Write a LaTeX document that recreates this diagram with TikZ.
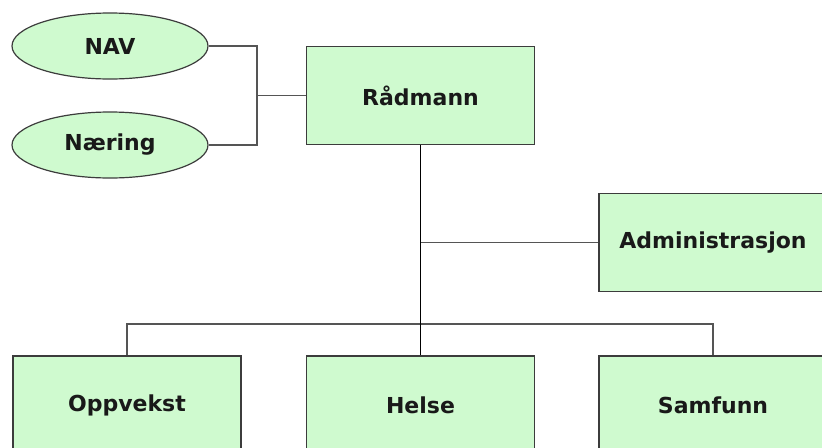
\documentclass[tikz,border=0pt]{standalone}
\usepackage{fontspec}
\setmainfont{DejaVu Sans}
\usetikzlibrary{shapes.geometric}
\definecolor{boxfill}{RGB}{207,250,207}
\definecolor{boxline}{RGB}{60,60,60}
\definecolor{conn}{RGB}{85,85,85}
\definecolor{txt}{RGB}{25,25,25}
\begin{document}
\begin{tikzpicture}[x=0.75pt,y=-0.75pt,
  unit/.style={draw=boxline,line width=0.9pt,fill=boxfill,rectangle,minimum width=171pt,minimum height=73.5pt,inner sep=0pt,text=txt,font=\fontsize{16.5}{18}\selectfont\bfseries},
  oval/.style={draw=boxline,line width=0.9pt,fill=boxfill,ellipse,minimum width=147pt,minimum height=49.5pt,inner sep=0pt,text=txt,font=\fontsize{16.5}{18}\selectfont\bfseries},
  link/.style={draw=conn,line width=1.1pt},
  mainlink/.style={draw=black,line width=1.1pt}]
\useasboundingbox (0,0) rectangle (822,447);
\fill[white] (0,0) rectangle (822,447);
\node[oval] (nav) at (110,46) {NAV};
\node[oval] (naering) at (110,145) {Næring};
\node[unit] (rad) at (420.5,95.5) {Rådmann};
\node[unit] (adm) at (713,242.5) {Administrasjon};
\node[unit] (opp) at (127,405) {Oppvekst};
\node[unit] (helse) at (420.5,405) {Helse};
\node[unit] (samf) at (713,405) {Samfunn};
\coordinate (j) at (257,95.5);
\coordinate (bus) at (420.5,324);
\draw[link] (nav.east) -| (j) |- (naering.east);
\draw[link] (j) -- (rad.west);
\draw[link] (rad.south |- adm.west) -- (adm.west);
\draw[link] (opp.north) |- (bus) -| (samf.north);
\draw[mainlink] (rad.south) -- (helse.north);
\end{tikzpicture}
\end{document}
